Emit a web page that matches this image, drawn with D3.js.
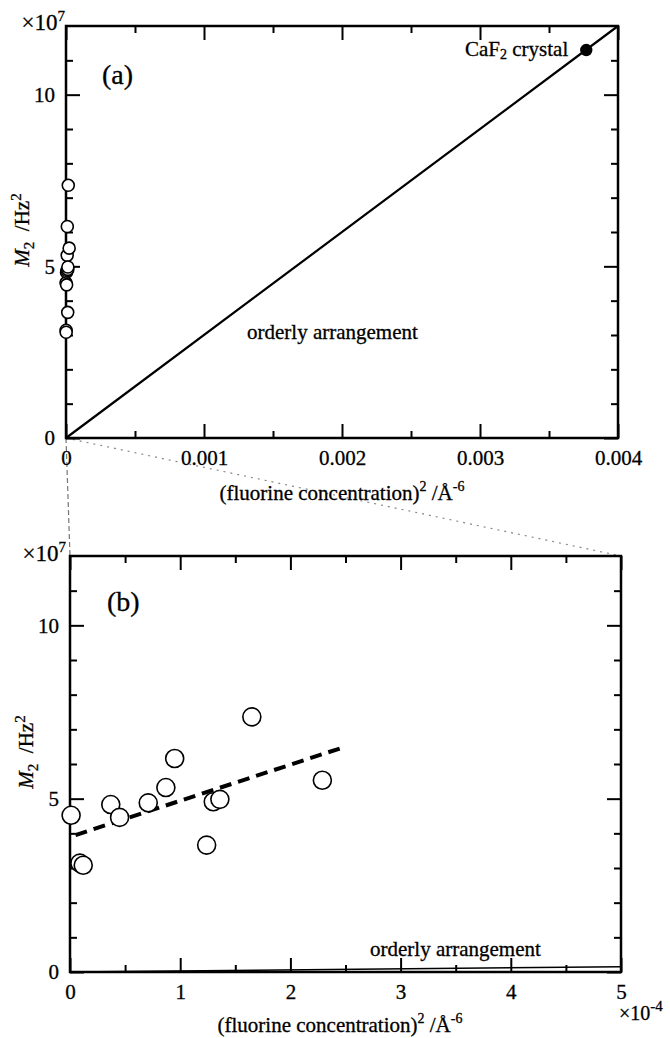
<!DOCTYPE html>
<html>
<head>
<meta charset="utf-8">
<script src="https://cdn.jsdelivr.net/npm/d3@7"></script>
<style>
  html, body { margin: 0; padding: 0; background: #fff; }
  svg { display: block; font-family: "Liberation Serif", "Times New Roman", serif; }
  svg text { stroke: #000; stroke-width: 0.3px; }
</style>
</head>
<body>
<div id="chart"></div>
<script>
// M2 of the samples; x in the numbers printed on the (b) axis
const concB = [0.01, 0.09, 0.12, 0.37, 0.45, 0.71, 0.87, 0.95, 1.24, 1.30, 1.36, 1.65, 2.29];
const m2 = [4.52, 3.14, 3.08, 4.83, 4.46, 4.88, 5.32, 6.16, 3.66, 4.91, 4.98, 7.36, 5.53];
// one (b) axis unit, in A^-6, as the same points sit in panel (a)
const B_UNIT = 1e-5;

// CaF2 crystal and the "orderly arrangement" line (panel a units)
const crystal = { x: 0.00377, y: 11.3 };
const orderlyX = [0, 0.004];
const orderlyY = [0, 12];

// dashed fit through the samples (panel b units)
const fitX = [0.05, 2.48];
const fitY = [3.95, 6.48];

// ticks
const xTicksA = [0, 0.001, 0.002, 0.003, 0.004];
const xMinorA = [0.0005, 0.0015, 0.0025, 0.0035];
const xTicksB = [0, 1, 2, 3, 4, 5];
const xMinorB = [0.5, 1.5, 2.5, 3.5, 4.5];
const yTicks = [0, 5, 10];
const yMinor = [1, 2, 3, 4, 6, 7, 8, 9, 11];

const width = 670, height = 1038;
const FONT = 21;

const svg = d3.select('#chart').append('svg')
    .attr('width', width)
    .attr('height', height);
svg.append('rect').attr('width', width).attr('height', height).attr('fill', '#fff');

const orderlySlope = (orderlyY[1] - orderlyY[0]) / (orderlyX[1] - orderlyX[0]);
const points = concB.map((c, i) => ({ x: c, y: m2[i] }));

// 框與刻度
function drawFrame(box, x, y, xMajor, xMinor, xFmt) {
    const g = svg.append('g');

    const axes = [
        [d3.axisBottom(x), `translate(0,${box.bottom})`, xMajor, xMinor, true],
        [d3.axisTop(x), `translate(0,${box.top})`, xMajor, xMinor, false],
        [d3.axisLeft(y), `translate(${box.left},0)`, yTicks, yMinor, true],
        [d3.axisRight(y), `translate(${box.right},0)`, yTicks, yMinor, false]
    ];
    axes.forEach(([axis, tr, major, minor, labels], k) => {
        const fmt = labels ? (k === 0 ? xFmt : d3.format('d')) : () => '';
        g.append('g').attr('transform', tr)
            .call(axis.tickValues(minor).tickSize(-7).tickFormat(() => ''));
        g.append('g').attr('transform', tr)
            .call(axis.tickValues(major).tickSize(-14).tickPadding(k === 0 ? 12 : 11).tickFormat(fmt));
    });

    g.selectAll('.domain').remove();
    g.selectAll('.tick line').attr('stroke', '#000').attr('stroke-width', 2);
    g.selectAll('.tick text')
        .attr('fill', '#000')
        .attr('font-size', FONT)
        .attr('font-family', '"Liberation Serif", serif');
    g.selectAll('g').attr('font-family', null).attr('font-size', null);

    g.append('rect')
        .attr('x', box.left).attr('y', box.top)
        .attr('width', box.right - box.left)
        .attr('height', box.bottom - box.top)
        .attr('fill', 'none')
        .attr('stroke', '#000')
        .attr('stroke-width', 2.5);
    return g;
}

function expLabel(x, y, base, exp, anchor, size) {
    const t = svg.append('text')
        .attr('x', x).attr('y', y)
        .attr('text-anchor', anchor)
        .attr('font-size', size);
    t.append('tspan').text(base);
    t.append('tspan').attr('dy', -9).attr('font-size', 15).text(exp);
}

function yTitle(cx, cy) {
    const t = svg.append('text')
        .attr('transform', `translate(${cx},${cy}) rotate(-90)`)
        .attr('text-anchor', 'middle')
        .attr('font-size', FONT);
    t.append('tspan').attr('font-style', 'italic').text('M');
    t.append('tspan').attr('font-size', 15).attr('dy', 5).text('2');
    t.append('tspan').attr('dy', -5).text('\u2002/Hz');
    t.append('tspan').attr('font-size', 15).attr('dy', -8).text('2');
}

function xTitle(cx, y) {
    const t = svg.append('text')
        .attr('x', cx).attr('y', y)
        .attr('text-anchor', 'middle')
        .attr('font-size', FONT);
    t.append('tspan').text('(fluorine concentration)');
    t.append('tspan').attr('font-size', 14).attr('dy', -9).text('2');
    t.append('tspan').attr('dy', 9).text(' /\u00c5');
    t.append('tspan').attr('font-size', 14).attr('dy', -9).text('-6');
}

// ---------- panel (a) ----------
const boxA = { left: 66, right: 618, top: 26, bottom: 438 };
const xA = d3.scaleLinear().domain([0, 0.004]).range([boxA.left, boxA.right]);
const yA = d3.scaleLinear().domain([0, 12]).range([boxA.bottom, boxA.top]);

// ---------- panel (b) ----------
const boxB = { left: 70, right: 621, top: 556, bottom: 972 };
const xB = d3.scaleLinear().domain([0, 5]).range([boxB.left, boxB.right]);
const yB = d3.scaleLinear().domain([0, 12]).range([boxB.bottom, boxB.top]);

// 放大區域的連接線
svg.append('line')
    .attr('x1', xA(0)).attr('y1', yA(0))
    .attr('x2', xB(0)).attr('y2', yB(12))
    .attr('stroke', '#777').attr('stroke-width', 1.2)
    .attr('stroke-dasharray', '5,3');
svg.append('line')
    .attr('x1', xA(0)).attr('y1', yA(0))
    .attr('x2', xB(5)).attr('y2', yB(12))
    .attr('stroke', '#888').attr('stroke-width', 1.2)
    .attr('stroke-dasharray', '2,5');

drawFrame(boxA, xA, yA, xTicksA, xMinorA, d => d === 0 ? '0' : d3.format('.3f')(d));

svg.append('line')
    .attr('x1', xA(orderlyX[0])).attr('y1', yA(orderlyY[0]))
    .attr('x2', xA(orderlyX[1])).attr('y2', yA(orderlyY[1]))
    .attr('stroke', '#000').attr('stroke-width', 2.2);

svg.append('g').selectAll('circle')
    .data(points)
    .join('circle')
    .attr('cx', d => xA(d.x * B_UNIT))
    .attr('cy', d => yA(d.y))
    .attr('r', 6)
    .attr('fill', '#fff')
    .attr('stroke', '#000')
    .attr('stroke-width', 1.6);

svg.append('circle')
    .attr('cx', xA(crystal.x)).attr('cy', yA(crystal.y))
    .attr('r', 6.2).attr('fill', '#000');

const caf = svg.append('text')
    .attr('x', xA(crystal.x) - 18).attr('y', yA(crystal.y) + 6)
    .attr('text-anchor', 'end')
    .attr('font-size', FONT);
caf.append('tspan').text('CaF');
caf.append('tspan').attr('font-size', 14).attr('dy', 3).text('2');
caf.append('tspan').attr('dy', -3).text(' crystal');

svg.append('text').attr('x', 102).attr('y', 84).attr('font-size', 28).text('(a)');
svg.append('text').attr('x', 247).attr('y', 339).attr('font-size', FONT).text('orderly arrangement');

expLabel(65, 30, '\u00d710', '7', 'end', 23);
yTitle(29, 230);
xTitle(342, 500);

// ---------- panel (b) marks ----------
drawFrame(boxB, xB, yB, xTicksB, xMinorB, d3.format('d'));

svg.append('line')
    .attr('x1', xB(0)).attr('y1', yB(0))
    .attr('x2', xB(5)).attr('y2', yB(orderlySlope * 5 * B_UNIT))
    .attr('stroke', '#000').attr('stroke-width', 1.5);

svg.append('line')
    .attr('x1', xB(fitX[0])).attr('y1', yB(fitY[0]))
    .attr('x2', xB(fitX[1])).attr('y2', yB(fitY[1]))
    .attr('stroke', '#000').attr('stroke-width', 4)
    .attr('stroke-dasharray', '12,7');

svg.append('g').selectAll('circle')
    .data(points)
    .join('circle')
    .attr('cx', d => xB(d.x))
    .attr('cy', d => yB(d.y))
    .attr('r', 9)
    .attr('fill', '#fff')
    .attr('stroke', '#000')
    .attr('stroke-width', 1.6);

svg.append('text').attr('x', 107).attr('y', 611).attr('font-size', 28).text('(b)');
svg.append('text').attr('x', 370).attr('y', 956).attr('font-size', FONT).text('orderly arrangement');

expLabel(66, 561, '\u00d710', '7', 'end', 23);
expLabel(619, 1020, '\u00d710', '-4', 'start', 20);
yTitle(33, 752);
xTitle(340, 1032);
</script>
</body>
</html>
